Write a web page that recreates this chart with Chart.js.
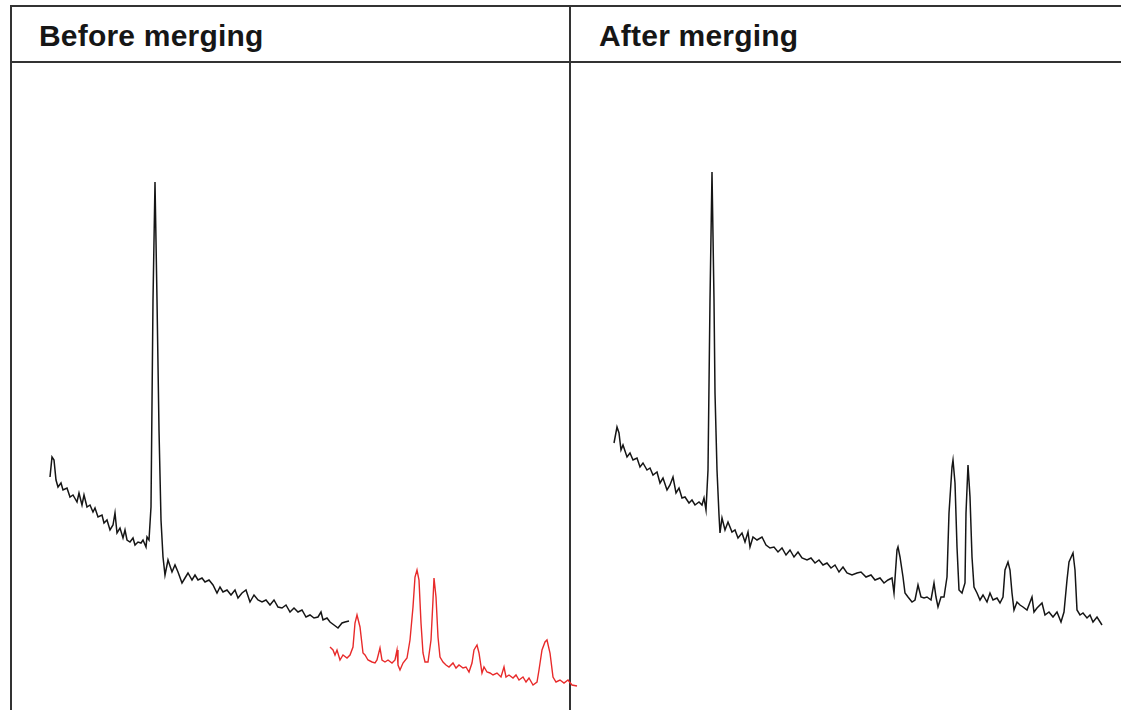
<!DOCTYPE html>
<html>
<head>
<meta charset="utf-8">
<script src="https://cdn.jsdelivr.net/npm/chart.js@4/dist/chart.umd.min.js"></script>
<style>
  html, body { margin: 0; padding: 0; background: #fff; width: 1121px; height: 710px; overflow: hidden; }
  .ln { position: absolute; background: #333; }
  .hdr { position: absolute; top: 18px; font-family: "Liberation Sans", Arial, sans-serif; font-weight: bold; font-size: 30px; line-height: 36px; color: #161616; letter-spacing: 0.2px; }
  canvas { position: absolute; }
</style>
</head>
<body>
<div class="ln" style="left:10px; top:5px; width:1111px; height:2px;"></div>
<div class="ln" style="left:10px; top:61px; width:1111px; height:2px;"></div>
<div class="ln" style="left:10px; top:5px; width:2px; height:705px;"></div>
<div class="ln" style="left:569px; top:5px; width:2px; height:705px;"></div>
<div class="hdr" style="left:39px;">Before merging</div>
<div class="hdr" style="left:599px;">After merging</div>
<canvas id="left" width="580" height="647" style="left:11px; top:63px;"></canvas>
<canvas id="right" width="550" height="647" style="left:571px; top:63px;"></canvas>
<script>
// Panel titles
const panelTitles = ["Before merging", "After merging"];

// Before merging: first spectrum (black)
const beforeBlackChannel = [39,41,43,45,47,50,52,56,59,62,66,68,71,73,76,79,82,84,87,91,93,96,99,102,104,106,109,112,114,116,119,122,124,127,130,132,135,136,138,140,142,144,146,148,150,152,154,157,161,164,167,171,174,177,181,184,187,191,194,198,202,206,209,212,216,220,224,227,231,235,239,243,247,251,255,259,263,267,271,275,279,283,287,291,295,299,303,307,310,312,316,319,323,327,331,334,338];
const beforeBlackIntensity = [233,253,250,230,223,227,220,222,213,215,208,217,205,215,203,205,198,202,193,195,187,190,180,185,197,177,182,172,180,170,168,172,165,168,167,170,163,173,170,203,410,528,410,280,190,153,135,150,138,145,138,127,132,137,130,135,130,132,128,130,125,117,123,118,120,115,120,112,117,120,108,115,110,108,110,105,110,103,102,105,98,102,98,100,93,95,92,93,98,90,92,88,85,82,87,88,89];

// Before merging: second spectrum (red)
const beforeRedChannel = [319,322,324,326,329,332,336,339,342,344,346,349,352,354,357,361,364,366,369,371,374,377,381,384,386,387,389,392,396,399,402,404,406,408,410,412,414,417,420,422,423,425,427,429,432,435,438,442,445,448,452,455,458,461,463,466,468,471,473,476,479,482,486,490,493,495,498,502,505,508,512,515,518,522,526,528,531,534,536,539,542,545,549,553,557,561,566];
const beforeRedIntensity = [63,60,55,60,50,55,52,55,63,87,95,83,57,55,50,48,47,50,62,50,48,50,47,50,60,45,40,47,52,70,103,133,140,130,87,57,48,48,70,110,132,113,73,53,48,45,43,47,42,45,42,43,38,47,60,65,57,37,43,38,37,35,37,33,43,33,35,32,35,30,33,28,32,25,28,40,60,68,70,57,33,28,30,27,30,25,24];

// After merging: merged spectrum (black)
const afterChannel = [43,46,48,50,52,56,59,62,66,69,72,76,79,82,86,89,92,96,99,102,105,108,111,114,118,121,124,128,131,133,135,137,139,141,143,144,146,148,149,151,154,157,161,164,167,171,174,177,179,182,186,191,195,199,203,207,211,215,219,223,227,231,236,240,244,248,252,256,260,264,268,272,276,281,286,290,295,300,304,309,313,317,321,323,326,327,329,332,334,337,341,344,347,350,353,356,360,363,365,367,370,373,376,378,381,382,384,386,388,391,394,395,397,399,401,403,406,409,412,416,419,422,426,429,432,434,437,439,441,443,446,449,452,456,461,463,466,471,474,478,482,486,490,493,496,498,502,504,506,509,512,516,519,522,526,531];
const afterIntensity = [267,283,277,260,265,253,257,250,252,243,247,240,242,235,238,227,232,220,225,233,217,222,212,213,207,210,205,208,205,212,200,240,410,538,410,317,240,195,177,192,180,188,178,180,172,177,168,178,163,173,170,173,165,162,163,158,162,155,160,153,158,152,150,152,147,150,145,147,142,145,138,143,137,135,137,138,133,135,130,132,127,130,132,117,160,163,153,133,117,113,108,110,125,113,112,113,110,127,113,103,113,113,133,197,243,250,227,163,120,117,127,197,245,213,153,123,117,110,115,108,117,110,112,107,113,140,148,140,117,100,108,105,103,100,113,98,102,107,95,98,93,98,88,98,130,148,157,140,100,95,97,92,95,88,93,85];

// Axis ranges (channels / intensity)
const leftRange = { xMax: 580, yMax: 647 };
const rightRange = { xMax: 550, yMax: 647 };

function pts(xs, ys) { return xs.map((x, i) => ({ x: x, y: ys[i] })); }

function makeChart(id, datasets, range) {
  return new Chart(document.getElementById(id), {
    type: 'line',
    data: { datasets: datasets },
    options: {
      responsive: false,
      animation: false,
      devicePixelRatio: 1,
      layout: { padding: 0 },
      plugins: { legend: { display: false }, tooltip: { enabled: false }, title: { display: false } },
      elements: { point: { radius: 0 }, line: { tension: 0 } },
      scales: {
        x: { type: 'linear', min: 0, max: range.xMax, display: false },
        y: { type: 'linear', min: 0, max: range.yMax, display: false }
      }
    }
  });
}

makeChart('left', [
  { label: 'Spectrum 1', data: pts(beforeBlackChannel, beforeBlackIntensity), borderColor: '#151515', borderWidth: 1.5, fill: false },
  { label: 'Spectrum 2', data: pts(beforeRedChannel, beforeRedIntensity), borderColor: '#e82a2a', borderWidth: 1.4, fill: false }
], leftRange);

makeChart('right', [
  { label: 'Merged', data: pts(afterChannel, afterIntensity), borderColor: '#151515', borderWidth: 1.5, fill: false }
], rightRange);
</script>
</body>
</html>
